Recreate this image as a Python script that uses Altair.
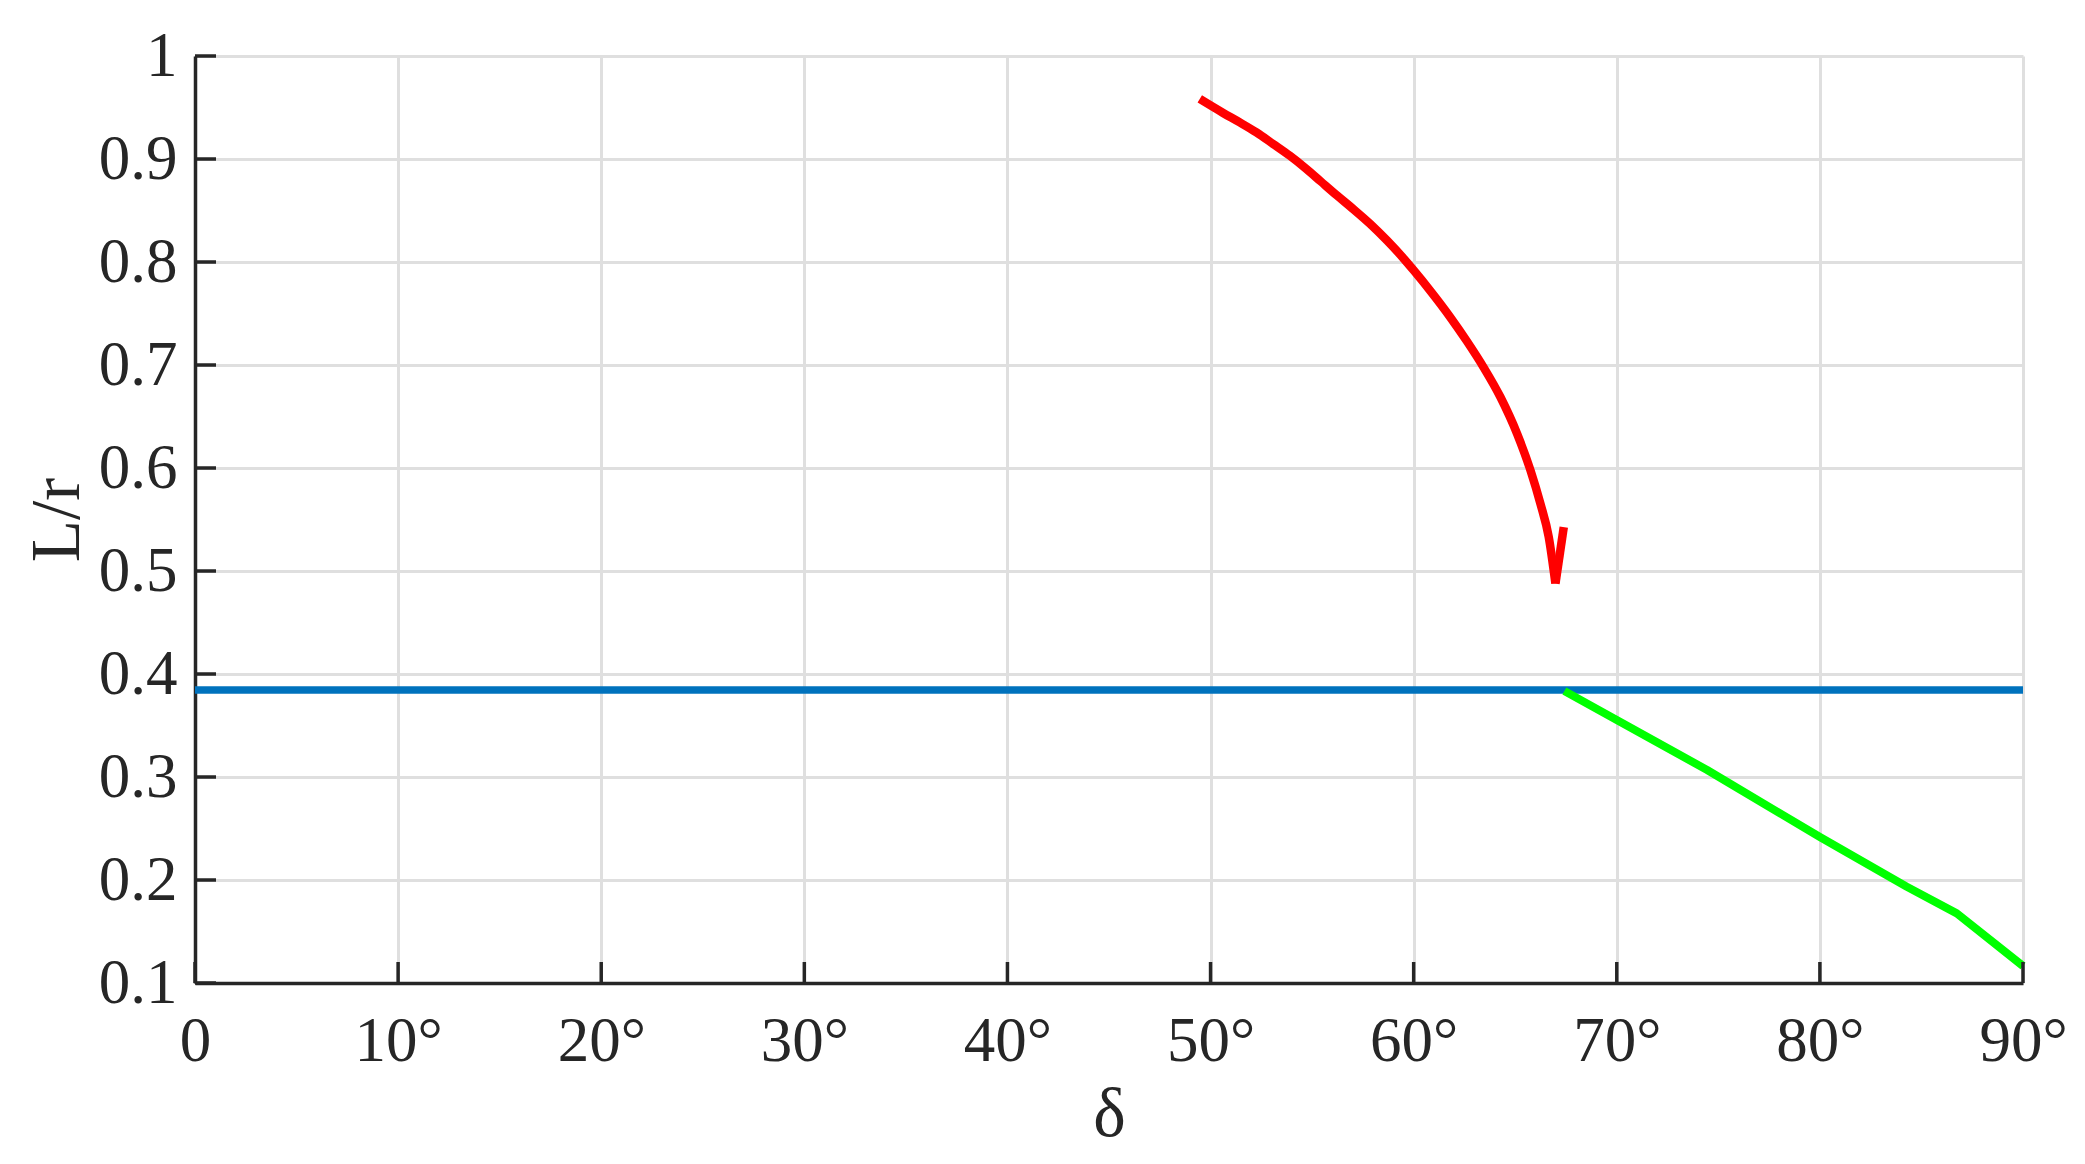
import altair as alt
import pandas as pd

# ---- data ----
x_ticks = [0, 10, 20, 30, 40, 50, 60, 70, 80, 90]
y_ticks = [0.1, 0.2, 0.3, 0.4, 0.5, 0.6, 0.7, 0.8, 0.9, 1.0]

blue_delta = [0, 90]
blue_lr = [0.3845, 0.3845]

# red curve down to the arrow tip
red_delta = [49.47, 50.62, 51.44, 52.26, 53.08, 53.90, 54.72, 55.41, 56.23, 57.05,
             57.87, 58.69, 59.51, 60.00, 60.82, 61.81, 62.63, 63.45, 64.27, 65.09,
             65.75, 66.24, 66.65, 66.98]
red_lr = [0.9583, 0.9447, 0.9355, 0.9258, 0.9146, 0.9032, 0.8903, 0.8785, 0.8645, 0.8510,
          0.8368, 0.8208, 0.8033, 0.7919, 0.7720, 0.7462, 0.7228, 0.6975, 0.6689, 0.6334,
          0.5978, 0.5654, 0.5330, 0.4878]
# arrow barb: from the tip back up
barb_delta = [66.98, 67.39]
barb_lr = [0.4878, 0.5427]

green_delta = [67.42, 70.0, 74.45, 80.0, 84.28, 86.74, 90.0]
green_lr = [0.3835, 0.3553, 0.3068, 0.2417, 0.1935, 0.1676, 0.1165]

W, H = 1828, 927
TXT = "#262626"
FONT = "Liberation Serif"

blue_df = pd.DataFrame({"d": blue_delta, "v": blue_lr, "o": range(len(blue_delta))})
red_df = pd.DataFrame({"d": red_delta, "v": red_lr, "o": range(len(red_delta))})
barb_df = pd.DataFrame({"d": barb_delta, "v": barb_lr, "o": range(len(barb_delta))})
green_df = pd.DataFrame({"d": green_delta, "v": green_lr, "o": range(len(green_delta))})
xt_df = pd.DataFrame({"d": x_ticks})
yt_df = pd.DataFrame({"v": y_ticks})

x_scale = alt.Scale(domain=[0, 90], nice=False, zero=False)
y_scale = alt.Scale(domain=[0.1, 1.0], nice=False, zero=False)

x_axis = alt.Axis(
    values=x_ticks,
    labelExpr="datum.value == 0 ? '0' : datum.value + '°'",
    ticks=False, domain=True, domainColor=TXT, domainWidth=3.5,
    grid=True, gridColor="#dfdfdf", gridWidth=3,
    labelFont=FONT, labelFontSize=63, labelColor=TXT, labelPadding=27,
    labelFlush=False, labelOverlap=False,
    title="δ", titleFont=FONT, titleFontSize=69, titleFontWeight="normal",
    titleColor=TXT, titleBaseline="alphabetic", titleY=152, titleX=W / 2,
    titleAlign="center",
)
y_axis = alt.Axis(
    values=y_ticks, format=".1~f",
    ticks=False, domain=True, domainColor=TXT, domainWidth=3.5,
    grid=True, gridColor="#dfdfdf", gridWidth=3,
    labelFont=FONT, labelFontSize=63, labelColor=TXT, labelPadding=18,
    labelOverlap=False,
    title="L/r", titleFont=FONT, titleFontSize=69, titleFontWeight="normal",
    titleColor=TXT, titleBaseline="alphabetic", titleAngle=270,
    titleX=-117, titleY=H / 2, titleAlign="center",
)

X = alt.X("d:Q", scale=x_scale, axis=x_axis)
Y = alt.Y("v:Q", scale=y_scale, axis=y_axis)

blue = alt.Chart(blue_df).mark_line(color="#0072BD", strokeWidth=7.5).encode(
    x=X, y=Y, order="o:Q")
green = alt.Chart(green_df).mark_line(color="#00FF00", strokeWidth=8,
                                      strokeJoin="round").encode(
    x=X, y=Y, order="o:Q")
red = alt.Chart(red_df).mark_line(color="#FF0000", strokeWidth=8.5,
                                  interpolate="monotone").encode(
    x=X, y=Y, order="o:Q")
barb = alt.Chart(barb_df).mark_line(color="#FF0000", strokeWidth=8.5).encode(
    x=X, y=Y, order="o:Q")

xticks = alt.Chart(xt_df).mark_rule(color=TXT, strokeWidth=3.5).encode(
    x=alt.X("d:Q", scale=x_scale, axis=x_axis),
    y=alt.value(H), y2=alt.value(H - 21))
yticks = alt.Chart(yt_df).mark_rule(color=TXT, strokeWidth=3.5).encode(
    y=alt.Y("v:Q", scale=y_scale, axis=y_axis),
    x=alt.value(0), x2=alt.value(21))

chart = alt.layer(blue, green, red, barb, xticks, yticks).properties(
    width=W, height=H,
    padding={"left": 187, "top": 48, "right": 54, "bottom": 168},
    autosize=alt.AutoSizeParams(type="none"),
    background="white",
).configure_view(strokeWidth=0)

chart.save("out.html", embed_options={"renderer": "svg", "actions": False})
